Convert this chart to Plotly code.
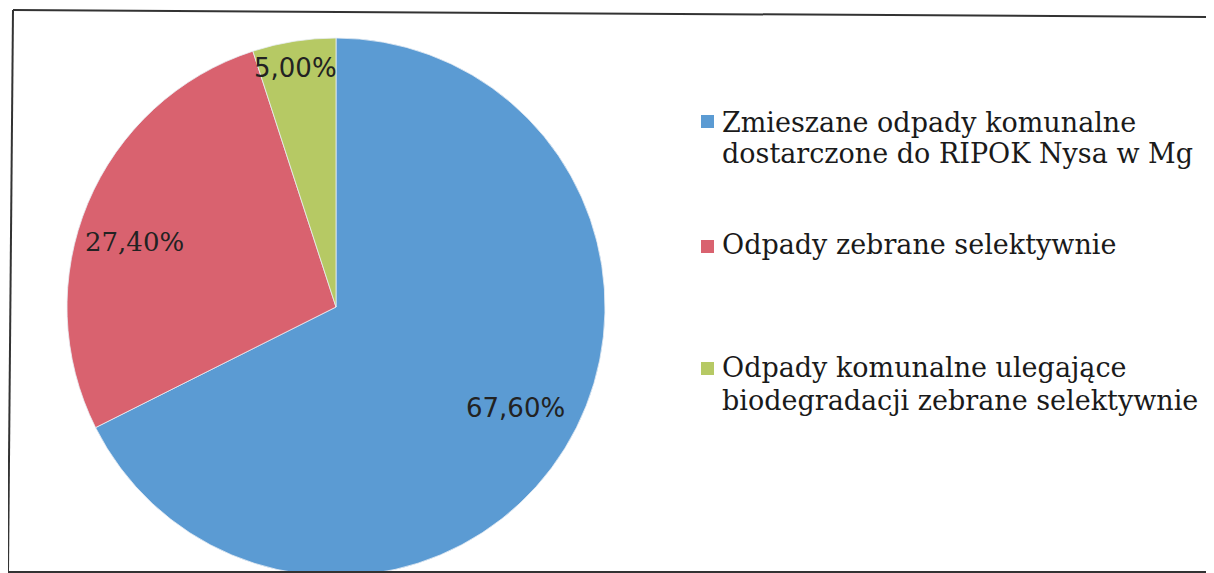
import math
import plotly.graph_objects as go

labels = [
    "Zmieszane odpady komunalne dostarczone do RIPOK Nysa w Mg",
    "Odpady zebrane selektywnie",
    "Odpady komunalne ulegające biodegradacji zebrane selektywnie",
]
legend_lines = [
    ["Zmieszane odpady komunalne", "dostarczone do RIPOK Nysa w Mg"],
    ["Odpady zebrane selektywnie"],
    ["Odpady komunalne ulegające", "biodegradacji zebrane selektywnie"],
]
values = [67.6, 27.4, 5.0]
text_labels = ["67,60%", "27,40%", "5,00%"]
colors = ["#5b9bd3", "#d9626f", "#b6c964"]

# page is shown with an 8px body margin: positions below are screen coords minus OFF
OFF = 8
W, H = 1214, 573
cx, cy, r = 336 - OFF, 307 - OFF, 269


def px(x):
    return min(max(x / W, 0.0), 1.0)


def py(y):
    return min(max(1 - y / H, 0.0), 1.0)


fig = go.Figure()
fig.add_trace(go.Pie(
    labels=labels, values=values, sort=False, direction="clockwise", rotation=0,
    marker=dict(colors=colors, line=dict(color="#e8eef4", width=0.8)),
    textinfo="none", hoverinfo="label+percent", showlegend=False,
    domain=dict(x=[px(cx - r), px(cx + r)], y=[py(cy + r), py(cy - r)]),
))

# percent labels placed near each slice's mid-angle
radius_frac = [0.767, 0.789, 0.901]
angle_shift = [-2.4, -4.8, -0.7]
label_fonts = ["DejaVu Sans", "DejaVu Serif", "DejaVu Sans"]
total = sum(values)
cum = 0
for i, v in enumerate(values):
    mid = (cum + v / 2) / total * 360 + angle_shift[i]
    cum += v
    a = math.radians(mid)
    lx = cx + radius_frac[i] * r * math.sin(a)
    ly = cy - radius_frac[i] * r * math.cos(a)
    fig.add_annotation(x=px(lx), y=py(ly), xref="paper", yref="paper",
                       text=text_labels[i], showarrow=False,
                       xanchor="center", yanchor="middle",
                       font=dict(family=label_fonts[i], size=26, color="#222222"))

# legend drawn manually (one annotation per text line)
LEG_SIZE = 27
line_baselines = [[132, 163], [254], [377, 410]]
square_tops = [115, 240, 362]
for i, lines in enumerate(legend_lines):
    st = square_tops[i] - OFF
    fig.add_shape(type="rect", xref="paper", yref="paper",
                  x0=px(701 - OFF), x1=px(714 - OFF), y0=py(st + 13), y1=py(st),
                  fillcolor=colors[i], line=dict(color=colors[i], width=0))
    for j, line in enumerate(lines):
        top = line_baselines[i][j] - OFF - LEG_SIZE
        fig.add_annotation(x=px(720 - OFF), y=py(top), xref="paper", yref="paper",
                           text=line, showarrow=False, align="left",
                           xanchor="left", yanchor="top",
                           font=dict(family="DejaVu Serif", size=LEG_SIZE, color="#1a1a1a"))

# frame (scanned, slightly tilted), in screen coords
frame = [(13, 10, 1212, 17), (13, 10, 7, 572), (7, 572, 1214, 572), (1212, 17, 1212, 573)]
for (x0, y0, x1, y1) in frame:
    fig.add_shape(type="line", xref="paper", yref="paper",
                  x0=px(x0 - OFF), y0=py(y0 - OFF), x1=px(x1 - OFF), y1=py(y1 - OFF),
                  line=dict(color="#333333", width=2))

fig.update_layout(width=W, height=H, margin=dict(l=0, r=0, t=0, b=0),
                  paper_bgcolor="white", plot_bgcolor="white")
fig.write_html("out.html")
